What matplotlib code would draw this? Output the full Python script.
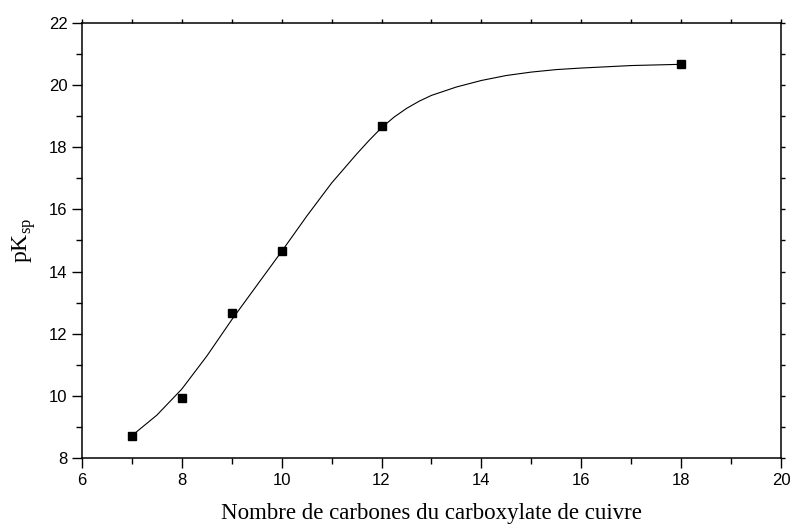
import numpy as np
import matplotlib
matplotlib.use('Agg')
import matplotlib.pyplot as plt
from matplotlib.ticker import MultipleLocator

## Data
# Measured points
n_carbon = [7, 8, 9, 10, 12, 18]
pksp = [8.70, 9.93, 12.68, 14.65, 18.70, 20.67]

# Fitted curve
fit_x = [7.0, 7.5, 8.0, 8.5, 9.0, 9.5, 10.0, 10.5, 11.0, 11.5, 11.75, 12.0,
         12.25, 12.5, 12.75, 13.0, 13.5, 14.0, 14.5, 15.0, 15.5, 16.0,
         17.0, 18.0]
fit_y = [8.72, 9.38, 10.22, 11.28, 12.45, 13.55, 14.65, 15.78, 16.85, 17.78,
         18.22, 18.63, 18.97, 19.25, 19.48, 19.67, 19.94, 20.15, 20.31,
         20.42, 20.50, 20.55, 20.63, 20.67]

## Plotting defaults
plt.rcParams['mathtext.fontset'] = 'custom'
plt.rcParams['mathtext.rm'] = 'Liberation Serif'

f = plt.figure(figsize=(7.92, 5.27), dpi=100)
ax = f.add_axes([0.1035, 0.1309, 0.8826, 0.8255])

ax.plot(fit_x, fit_y, color='black', lw=0.8)
ax.plot(n_carbon, pksp, 's', color='black', ms=6, mec='black')

ax.set_xlim(6, 20)
ax.set_ylim(8, 22)
ax.xaxis.set_major_locator(MultipleLocator(2))
ax.xaxis.set_minor_locator(MultipleLocator(1))
ax.yaxis.set_major_locator(MultipleLocator(2))
ax.yaxis.set_minor_locator(MultipleLocator(1))

for side in ax.spines.values():
    side.set_linewidth(1.1)

ax.tick_params(which='both', direction='out', top=True, right=True,
               width=1.0, labeltop=False, labelright=False)
ax.tick_params(which='major', length=7)
ax.tick_params(which='minor', length=4)
# mirrored ticks on top/right are short
for t in (ax.xaxis.get_major_ticks() + ax.yaxis.get_major_ticks()
          + ax.xaxis.get_minor_ticks() + ax.yaxis.get_minor_ticks()):
    t.tick2line.set_markersize(3)

for lab in ax.get_xticklabels() + ax.get_yticklabels():
    lab.set_family('Liberation Sans')
    lab.set_fontsize(12)

ax.set_xlabel('Nombre de carbones du carboxylate de cuivre',
              family='Liberation Serif', fontsize=16.5, labelpad=11)
ax.set_ylabel(r'pK$_{\mathrm{sp}}$', family='Liberation Serif',
              fontsize=17, labelpad=8)

f.savefig('out.png', dpi=100)
